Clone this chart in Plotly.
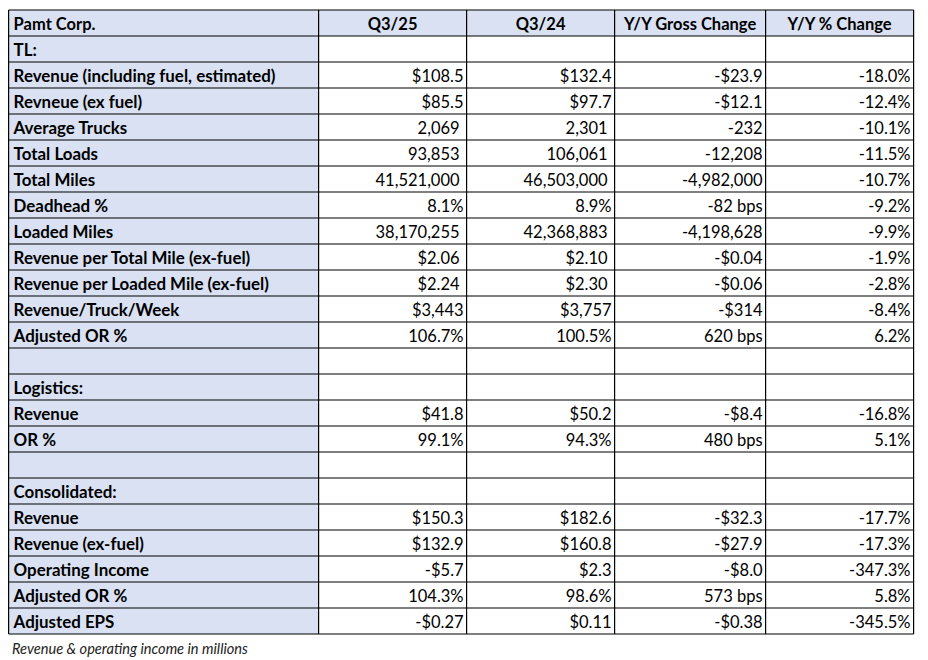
import plotly.graph_objects as go

header = ["Pamt Corp.", "Q3/25", "Q3/24", "Y/Y Gross Change", "Y/Y % Change"]

labels = [
    "TL:",
    "Revenue (including fuel, estimated)",
    "Revneue (ex fuel)",
    "Average Trucks",
    "Total Loads",
    "Total Miles",
    "Deadhead %",
    "Loaded Miles",
    "Revenue per Total Mile (ex-fuel)",
    "Revenue per Loaded Mile (ex-fuel)",
    "Revenue/Truck/Week",
    "Adjusted OR %",
    "",
    "Logistics:",
    "Revenue",
    "OR %",
    "",
    "Consolidated:",
    "Revenue",
    "Revenue (ex-fuel)",
    "Operating Income",
    "Adjusted OR %",
    "Adjusted EPS",
]

q3_25 = ["", "$108.5", "$85.5", "2,069", "93,853", "41,521,000", "8.1%", "38,170,255",
         "$2.06", "$2.24", "$3,443", "106.7%", "", "", "$41.8", "99.1%", "", "",
         "$150.3", "$132.9", "-$5.7", "104.3%", "-$0.27"]

q3_24 = ["", "$132.4", "$97.7", "2,301", "106,061", "46,503,000", "8.9%", "42,368,883",
         "$2.10", "$2.30", "$3,757", "100.5%", "", "", "$50.2", "94.3%", "", "",
         "$182.6", "$160.8", "$2.3", "98.6%", "$0.11"]

gross_change = ["", "-$23.9", "-$12.1", "-232", "-12,208", "-4,982,000", "-82 bps", "-4,198,628",
                "-$0.04", "-$0.06", "-$314", "620 bps", "", "", "-$8.4", "480 bps", "", "",
                "-$32.3", "-$27.9", "-$8.0", "573 bps", "-$0.38"]

pct_change = ["", "-18.0%", "-12.4%", "-10.1%", "-11.5%", "-10.7%", "-9.2%", "-9.9%",
              "-1.9%", "-2.8%", "-8.4%", "6.2%", "", "", "-16.8%", "5.1%", "", "",
              "-17.7%", "-17.3%", "-347.3%", "5.8%", "-345.5%"]

# rows whose quarter values sit a little further from the right border (excel number format)
padded_rows = ["Average Trucks", "Total Loads", "Total Miles", "Loaded Miles",
               "Revenue per Total Mile (ex-fuel)", "Revenue per Loaded Mile (ex-fuel)"]

# page body has an 8px margin, so the figure is a bit smaller than the window
W, H = 920, 652
LAV = "#D9E1F2"
FONT = "Lato, Calibri, sans-serif"

x0, top, row_h = 0.6, 2, 26
col_w = [310, 148, 148, 151, 148]
edges = [x0]
for w in col_w:
    edges.append(edges[-1] + w)

columns = [labels, q3_25, q3_24, gross_change, pct_change]
n_rows = len(labels) + 1
# text baseline sits a bit low in the cells, like excel
ys = [top + row_h * (i + 0.5) + 3 for i in range(n_rows)]

fig = go.Figure()

# header row
for j, h in enumerate(header):
    if j == 0:
        x, pos = edges[0] + 5, "middle right"
    else:
        x, pos = (edges[j] + edges[j + 1]) / 2, "middle center"
    fig.add_trace(go.Scatter(
        x=[x], y=[ys[0]], mode="text", text=["<b>%s</b>" % h],
        textposition=pos, textfont=dict(family=FONT, size=16.5, color="black"),
        hoverinfo="skip", showlegend=False, cliponaxis=False,
    ))

# body
for j, col in enumerate(columns):
    if j == 0:
        xs = [edges[0] + 5] * len(col)
        txt = ["<b>%s</b>" % s if s else "" for s in col]
        pos, fs = "middle right", 16.9
    else:
        xs = []
        for lab in labels:
            pad = 7 if (j in (1, 2) and lab in padded_rows) else 3
            xs.append(edges[j + 1] - pad)
        txt = col
        pos, fs = "middle left", 16.5
    fig.add_trace(go.Scatter(
        x=xs, y=ys[1:], mode="text", text=txt, textposition=pos,
        textfont=dict(family=FONT, size=fs, color="black"),
        hoverinfo="skip", showlegend=False, cliponaxis=False,
    ))

bottom = top + n_rows * row_h

# fills
fig.add_shape(type="rect", x0=edges[0], x1=edges[1], y0=top, y1=bottom,
              fillcolor=LAV, line_width=0, layer="below")
fig.add_shape(type="rect", x0=edges[0], x1=edges[-1], y0=top, y1=top + row_h,
              fillcolor=LAV, line_width=0, layer="below")

# grid
for i in range(n_rows + 1):
    y = top + i * row_h
    fig.add_shape(type="line", x0=edges[0], x1=edges[-1], y0=y, y1=y,
                  line=dict(color="black", width=1.2))
for e in edges:
    fig.add_shape(type="line", x0=e, x1=e, y0=top, y1=bottom,
                  line=dict(color="black", width=1.2))

fig.add_annotation(
    text="<i>Revenue &amp; operating income in millions</i>",
    x=2, y=bottom + 14, xref="x", yref="y",
    xanchor="left", yanchor="middle", showarrow=False,
    font=dict(family=FONT, size=14.6, color="#222222"),
)

fig.update_layout(
    width=W, height=H,
    margin=dict(l=0, r=0, t=0, b=0),
    paper_bgcolor="white", plot_bgcolor="white",
    xaxis=dict(range=[0, W], domain=[0, 1], visible=False, fixedrange=True),
    yaxis=dict(range=[H, 0], domain=[0, 1], visible=False, fixedrange=True),
)

fig.write_html("out.html")
